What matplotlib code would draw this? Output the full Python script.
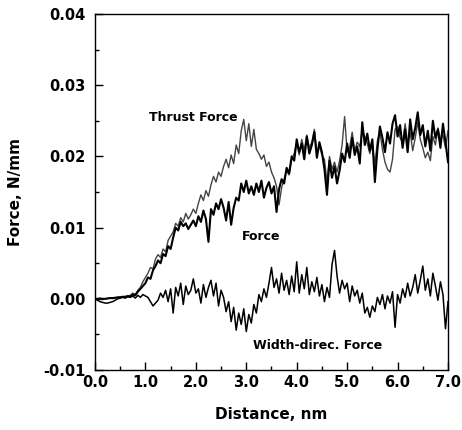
import numpy as np
import matplotlib
matplotlib.use("Agg")
from matplotlib import pyplot as plt
from matplotlib.ticker import MultipleLocator, FormatStrFormatter

# sampling grid, nm
step = 0.05
distance = np.arange(141) * step

# values, in 1e-3 N/mm
force = [
    0.0, 0.0, 0.05, 0.0, 0.0, 0.05, 0.1, 0.1, 0.15, 0.2,
    0.2, 0.3, 0.2, 0.4, 0.3, 0.6, 0.5, 1.0, 1.4, 1.8,
    2.2, 3.0, 2.8, 4.0, 4.6, 5.4, 5.0, 6.3, 6.0, 7.4,
    7.0, 8.6, 10.0, 9.6, 10.8, 10.2, 10.6, 9.8, 10.4, 11.0,
    10.2, 11.6, 10.8, 12.4, 11.2, 8.0, 12.6, 11.8, 13.4, 12.6,
    14.0, 12.8, 11.0, 13.6, 10.4, 12.8, 14.2, 13.8, 16.2, 15.0,
    16.6, 14.8, 15.8, 14.6, 16.2, 15.0, 16.6, 14.2, 15.6, 16.4,
    14.8, 15.8, 12.2, 15.4, 16.8, 16.2, 18.4, 17.6, 20.0, 19.4,
    22.4, 20.6, 21.8, 19.6, 22.8, 20.4, 21.6, 23.4, 19.8, 22.0,
    20.6, 18.2, 14.6, 19.4, 17.0, 18.6, 16.2, 18.0, 20.4, 19.2,
    21.8, 19.8, 22.6, 20.2, 21.4, 19.0, 24.8, 21.6, 23.2, 20.8,
    22.4, 16.4, 21.0, 24.2, 22.6, 20.6, 23.4, 21.8, 24.6, 25.8,
    22.8, 24.4, 21.2, 23.8, 20.6, 25.2, 22.4, 24.0, 26.2, 23.0,
    24.4, 21.4, 23.6, 20.8, 25.0, 22.6, 23.8, 21.2, 24.6, 22.0,
    19.2,
]

thrust = [
    0.0, 0.0, 0.0, -0.05, 0.0, 0.05, 0.1, 0.05, 0.15, 0.2,
    0.3, 0.2, 0.4, 0.3, 0.5, 0.8, 0.6, 1.2, 1.6, 2.4,
    3.0, 3.6, 4.4, 4.2, 5.6, 6.2, 5.8, 7.0, 6.6, 8.2,
    8.8, 9.4, 10.6, 10.2, 11.4, 10.8, 12.0, 11.2, 11.8, 12.6,
    12.0, 13.4, 14.6, 13.8, 15.2, 14.4, 16.0, 17.2, 16.4, 17.8,
    17.2, 18.6, 19.6, 18.4, 20.2, 19.0, 21.6, 20.4, 23.6, 25.2,
    22.2, 24.6, 21.4, 23.8, 21.0, 20.4, 19.6, 20.2, 18.6, 19.2,
    17.8, 17.0, 15.8, 13.2, 15.6, 16.8, 18.0, 17.4, 19.6, 20.4,
    21.8, 20.2, 22.4, 20.8, 23.0, 21.2, 22.0, 23.8, 20.6, 21.4,
    20.2, 19.6, 16.4, 20.0, 18.2, 19.2, 17.8, 19.4, 21.6, 25.6,
    20.6, 21.2, 23.4, 20.8, 22.0, 21.4, 23.6, 22.8, 21.8, 20.4,
    21.8, 18.8, 22.2, 23.4, 21.0, 19.2, 18.2, 17.8, 19.6, 23.8,
    24.2, 22.6, 22.0, 24.6, 21.8, 23.4, 20.8, 22.6, 24.8, 22.4,
    21.2, 19.8, 20.6, 19.4, 22.8, 21.6, 24.0, 22.4, 23.0, 21.2,
    23.6,
]

width = [
    0.0, -0.2, -0.4, -0.5, -0.6, -0.6, -0.5, -0.4, -0.2, 0.0,
    0.1, 0.2, 0.1, 0.3, 0.2, 0.4, 0.1, 0.5, 0.2, 0.6,
    0.4, 0.2, -0.4, -1.0, -0.6, -0.2, 0.8, 0.2, 1.2, -0.4,
    1.4, -2.0, 1.6, 0.4, 2.2, -0.8, 1.8, 0.6, 1.2, 2.8,
    0.8, 1.4, -0.6, 2.0, 0.2, 1.6, 2.6, 0.4, 2.2, -1.0,
    1.2, 0.2, -1.8, -0.4, -3.2, -1.2, -4.4, -2.0, -3.6, -1.4,
    -4.6, -2.2, -3.4, -0.8, -2.0, 0.6, -0.4, 1.4, 0.2, 2.2,
    4.4, 1.6, 2.8, 0.8, 3.6, 1.2, 2.6, 0.6, 3.2, 1.0,
    5.2, 0.8, 3.4, 1.4, 4.4, 0.6, 2.4, 1.0, 3.0, 0.4,
    2.0, -0.4, 1.6, 0.2, 4.8, 6.8, 3.2, 0.8, 2.6, 1.4,
    2.2, -0.4, 1.8, 0.4, 1.2, -0.6, 0.8, -2.0, -1.2, -2.6,
    -1.0, -1.8, 0.2, -0.8, 0.6, -1.4, 0.4, -0.6, 1.0, -4.0,
    0.6, -0.6, 1.4, 0.2, 2.2, 0.4, 1.6, 3.4, 0.8, 2.6,
    4.6, 1.2, 2.8, 0.4, 3.6, 1.8, -0.2, 2.4, 0.6, -4.2,
    -0.4,
]

force = np.array(force) * 1e-3
thrust = np.array(thrust) * 1e-3
width = np.array(width) * 1e-3

fig = plt.figure(figsize=(4.62, 4.30), dpi=100)
ax = fig.add_axes([0.2056, 0.1395, 0.7641, 0.8279])

ax.plot(distance, thrust, color="#444444", lw=1.0)
ax.plot(distance, force, color="black", lw=1.5)
ax.plot(distance, width, color="black", lw=1.1)

ax.set_xlim(0, 7)
ax.set_ylim(-0.01, 0.04)
ax.xaxis.set_major_locator(MultipleLocator(1.0))
ax.xaxis.set_minor_locator(MultipleLocator(0.5))
ax.yaxis.set_major_locator(MultipleLocator(0.01))
ax.yaxis.set_minor_locator(MultipleLocator(0.005))
ax.xaxis.set_major_formatter(FormatStrFormatter("%.1f"))
ax.yaxis.set_major_formatter(FormatStrFormatter("%.2f"))
ax.tick_params(which="both", direction="in", top=False, right=False)
ax.tick_params(which="major", length=6, width=1, labelsize=10.5)
ax.tick_params(axis="y", which="major", pad=7)
ax.tick_params(which="minor", length=3, width=1)
for lab in ax.get_xticklabels() + ax.get_yticklabels():
    lab.set_fontweight("bold")
for s in ax.spines.values():
    s.set_linewidth(1.0)

ax.set_xlabel("Distance, nm", fontsize=11, fontweight="bold", labelpad=12)
ax.set_ylabel("Force, N/mm", fontsize=11, fontweight="bold", labelpad=14)

ax.text(1.95, 0.0255, "Thrust Force", fontsize=9, fontweight="bold", ha="center", va="center")
ax.text(3.3, 0.0088, "Force", fontsize=9, fontweight="bold", ha="center", va="center")
ax.text(4.42, -0.0066, "Width-direc. Force", fontsize=9, fontweight="bold", ha="center", va="center")

fig.savefig("out.png", dpi=100)
